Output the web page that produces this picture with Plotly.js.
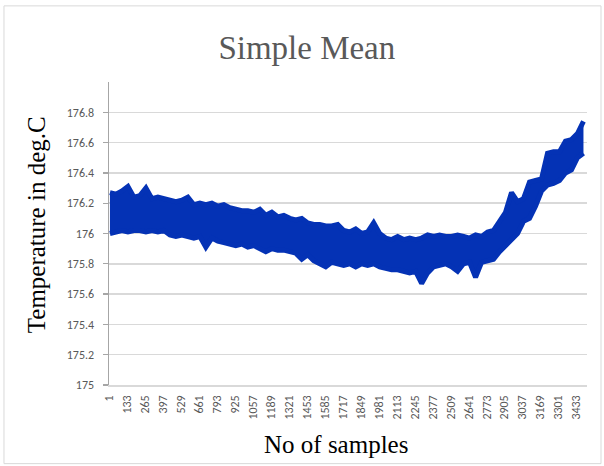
<!DOCTYPE html>
<html>
<head>
<meta charset="utf-8">
<script src="https://cdn.plot.ly/plotly-3.0.1.min.js"></script>
<style>html,body{margin:0;padding:0;background:#fff;}#chart{width:604px;height:466px;}</style>
</head>
<body>
<div id="chart"></div>
<script>
// Upper and lower edges of the noisy "Simple Mean" band
// (one reading every 44 samples, left to right).
const upperEdge = [
  176.27, 176.26, 176.28, 176.31, 176.24, 176.25, 176.30, 176.23, 176.24, 176.23,
  176.22, 176.21, 176.22, 176.24, 176.19, 176.20, 176.19, 176.20, 176.18, 176.19,
  176.17, 176.16, 176.15, 176.15, 176.14, 176.16, 176.12, 176.14, 176.11, 176.12,
  176.10, 176.09, 176.10, 176.07, 176.06, 176.06, 176.05, 176.05, 176.06, 176.02,
  176.01, 176.03, 176.00, 176.01, 176.07, 176.00, 175.97, 175.96, 175.98, 175.96,
  175.97, 175.96, 175.97, 175.99, 175.98, 175.99, 175.98, 175.98, 175.99, 175.98,
  175.97, 175.99, 175.98, 176.01, 176.02, 176.08, 176.14, 176.27, 176.21, 176.23,
  176.34, 176.35, 176.36, 176.53, 176.54, 176.54, 176.61, 176.62, 176.66, 176.74
];
const lowerEdge = [
  176.00, 176.01, 176.02, 176.01, 176.02, 176.02, 176.01, 176.02, 176.01, 176.02,
  175.99, 175.98, 175.99, 175.98, 175.97, 175.98, 175.91, 175.97, 175.95, 175.94,
  175.93, 175.92, 175.93, 175.91, 175.92, 175.90, 175.88, 175.90, 175.89, 175.89,
  175.88, 175.87, 175.83, 175.86, 175.82, 175.80, 175.78, 175.81, 175.80, 175.79,
  175.80, 175.78, 175.80, 175.79, 175.80, 175.78, 175.77, 175.76, 175.76, 175.75,
  175.74, 175.75, 175.67, 175.74, 175.78, 175.79, 175.80, 175.78, 175.75, 175.80,
  175.81, 175.71, 175.81, 175.82, 175.83, 175.88, 175.92, 175.96, 176.00, 176.08,
  176.10, 176.18, 176.28, 176.32, 176.33, 176.35, 176.40, 176.42, 176.50, 176.53
];
const xTickLabels = ["1","133","265","397","529","661","793","925","1057","1189","1321","1453","1585",
  "1717","1849","1981","2113","2245","2377","2509","2641","2773","2905","3037","3169","3301","3433"];
const yTickValues = [175, 175.2, 175.4, 175.6, 175.8, 176, 176.2, 176.4, 176.6, 176.8];
const yTickLabels = ["175","175.2","175.4","175.6","175.8","176","176.2","176.4","176.6","176.8"];
const firstSample = 8;
const sampleStep = 44;

const sampleNo = upperEdge.map((_, k) => firstSample + sampleStep * k);
const xTickVals = xTickLabels.map(Number);

const blue = '#0432b5';
const tickFont = {family: 'Calibri, Carlito, "Liberation Sans", Arial, sans-serif', size: 12, color: '#595959'};
const serif = '"Liberation Serif", "Times New Roman", Times, serif';

const upperTrace = {
  x: sampleNo, y: upperEdge, type: 'scatter', mode: 'lines',
  line: {color: blue, width: 5}, hoverinfo: 'x+y', showlegend: false
};
const lowerTrace = {
  x: sampleNo, y: lowerEdge, type: 'scatter', mode: 'lines',
  line: {color: blue, width: 5}, fill: 'tonexty', fillcolor: blue,
  hoverinfo: 'x+y', showlegend: false
};

const layout = {
  width: 604, height: 466,
  margin: {l: 109, r: 17, t: 82, b: 81, pad: 0},
  paper_bgcolor: '#ffffff', plot_bgcolor: '#ffffff',
  title: {text: 'Simple Mean', font: {family: serif, size: 33, color: '#595959'},
          x: 0.508, xanchor: 'center', xref: 'container', y: 0.898, yanchor: 'middle', yref: 'container'},
  xaxis: {
    range: [1, 3510], tickmode: 'array', tickvals: xTickVals, ticktext: xTickLabels,
    tickangle: -90, tickfont: tickFont, ticks: '', showgrid: false, zeroline: false,
    showline: true, linecolor: '#d9d9d9', linewidth: 1.5, ticklabelstandoff: 4
  },
  yaxis: {
    range: [175, 177], tickmode: 'array', tickvals: yTickValues, ticktext: yTickLabels,
    tickfont: tickFont, ticks: 'outside', ticklen: 5, tickcolor: '#a6a6a6', tickwidth: 1.3,
    showgrid: true, gridcolor: '#d9d9d9', gridwidth: 1.5, zeroline: false,
    showline: true, linecolor: '#a6a6a6', linewidth: 1.5, ticklabelstandoff: 6
  },
  annotations: [
    {text: 'No of samples', xref: 'paper', yref: 'paper', x: 0.475, y: -0.1438,
     xanchor: 'center', yanchor: 'top', showarrow: false,
     font: {family: serif, size: 25, color: '#000000'}},
    {text: 'Temperature in deg.C', xref: 'paper', yref: 'paper', x: -0.1527, y: 0.5273,
     xanchor: 'center', yanchor: 'middle', textangle: -90, showarrow: false,
     font: {family: serif, size: 25, color: '#000000'}}
  ],
  shapes: [
    {type: 'rect', xref: 'paper', yref: 'paper', x0: -0.2197, x1: 1.0293, y0: -0.2595, y1: 1.2512,
     line: {color: '#d9d9d9', width: 1}, fillcolor: 'rgba(0,0,0,0)', layer: 'below'}
  ]
};

Plotly.newPlot('chart', [upperTrace, lowerTrace], layout, {displayModeBar: false, staticPlot: true});
</script>
</body>
</html>
